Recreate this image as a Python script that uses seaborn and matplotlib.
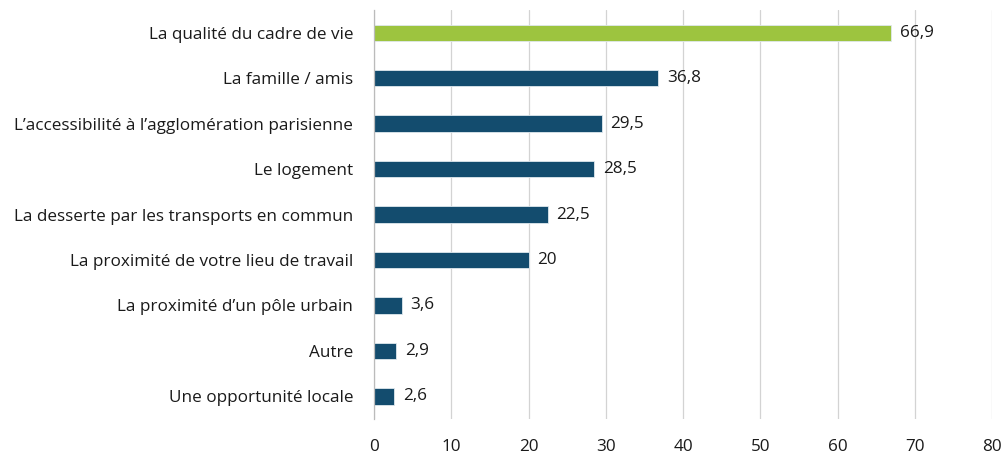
import matplotlib
matplotlib.use("Agg")
import matplotlib.pyplot as plt
import numpy as np
import pandas as pd
import seaborn as sns

categories = [
    "La qualité du cadre de vie",
    "La famille / amis",
    "L\u2019accessibilité à l\u2019agglomération parisienne",
    "Le logement",
    "La desserte par les transports en commun",
    "La proximité de votre lieu de travail",
    "La proximité d\u2019un pôle urbain",
    "Autre",
    "Une opportunité locale",
]
values = [66.9, 36.8, 29.5, 28.5, 22.5, 20, 3.6, 2.9, 2.6]
x_ticks = [0, 10, 20, 30, 40, 50, 60, 70, 80]

green = "#9dc43f"
blue = "#134c6e"

sns.set_style("white")
plt.rcParams["font.family"] = ["Open Sans", "DejaVu Sans"]

df = pd.DataFrame({"cat": categories, "val": values})
palette = [green] + [blue] * (len(categories) - 1)

fig = plt.figure(figsize=(10.02, 4.57), dpi=100)
ax = fig.add_axes([0.3733, 0.083, 0.617, 0.895])

sns.barplot(data=df, x="val", y="cat", hue="cat", palette=palette,
            legend=False, width=0.36, saturation=1, ax=ax,
            edgecolor="#dfe8ee", linewidth=0.6)

for i, v in enumerate(values):
    txt = f"{v:g}".replace(".", ",")
    ax.text(v + 1.1, i, txt, va="center", ha="left", fontsize=12.3, color="#1a1a1a")

ax.set_xlim(0, 80)
ax.set_ylim(len(categories) - 0.5, -0.5)
ax.set_xticks(x_ticks)
ax.set_xticklabels([str(t) for t in x_ticks])
ax.xaxis.grid(True, color="#d3d3d3", linewidth=0.9)
ax.set_axisbelow(True)
ax.set_xlabel("")
ax.set_ylabel("")

for s in ["top", "right", "bottom"]:
    ax.spines[s].set_visible(False)
ax.spines["left"].set_color("#bbbbbb")
ax.spines["left"].set_linewidth(0.9)

ax.tick_params(axis="x", length=0, pad=14, labelsize=12.3, labelcolor="#1a1a1a")
ax.tick_params(axis="y", which="major", length=0, pad=15, labelsize=12.3, labelcolor="#1a1a1a")
ax.set_yticks(np.arange(-0.5, len(categories), 1), minor=True)
ax.tick_params(axis="y", which="minor", length=6, color="#bbbbbb", width=0.9)

fig.savefig("out.png", dpi=100)
